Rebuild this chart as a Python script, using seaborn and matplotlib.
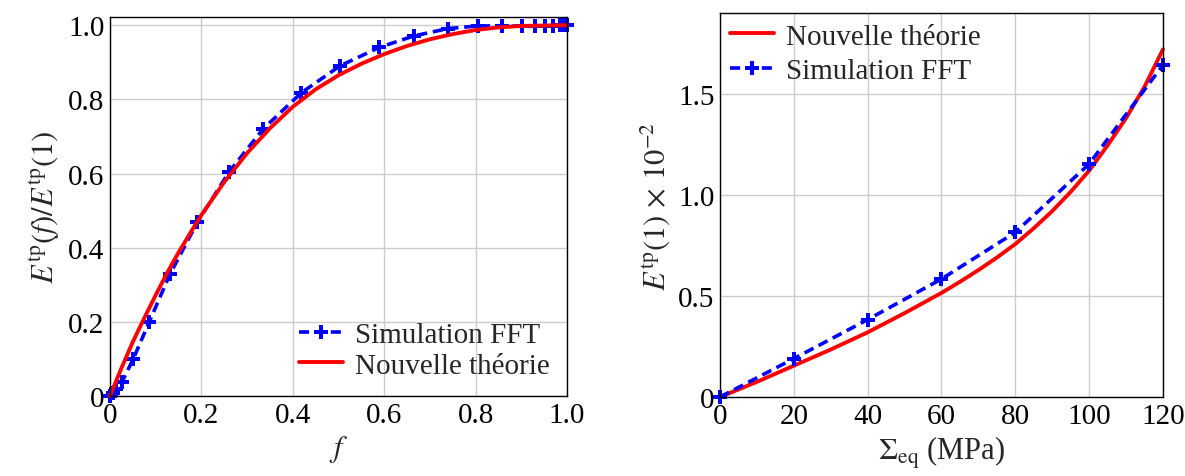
import matplotlib
matplotlib.use('Agg')
import matplotlib.pyplot as plt
import seaborn as sns
import pandas as pd

# ── Left panel: normalised E^tp(f)/E^tp(1) vs f ─────────────────────────────
f_fft = [0.0, 0.006, 0.013, 0.026, 0.051, 0.086, 0.131, 0.191, 0.261, 0.335,
         0.419, 0.503, 0.589, 0.665, 0.740, 0.805, 0.857, 0.901, 0.930, 0.952,
         0.970, 0.984, 0.993, 1.0]
e_fft = [0.0, 0.008, 0.018, 0.037, 0.10, 0.20, 0.328, 0.468, 0.605, 0.720,
         0.818, 0.890, 0.940, 0.971, 0.991, 0.998, 0.998, 0.997, 0.997, 0.998,
         0.999, 1.0, 1.0, 1.0]

f_th = [0.0, 0.025, 0.05, 0.075, 0.1, 0.125, 0.15, 0.175, 0.2, 0.25, 0.3,
        0.35, 0.4, 0.45, 0.5, 0.55, 0.6, 0.65, 0.7, 0.75, 0.8, 0.85, 0.9, 1.0]
e_th = [0.0, 0.075, 0.146, 0.21, 0.272, 0.332, 0.387, 0.438, 0.488, 0.577,
        0.655, 0.722, 0.78, 0.827, 0.865, 0.896, 0.922, 0.944, 0.962, 0.976,
        0.987, 0.994, 0.998, 1.0]

# ── Right panel: E^tp(1) vs Sigma_eq ────────────────────────────────────────
s_fft = [0, 20, 40, 60, 80, 100, 120]
etp_fft = [0.0, 0.19, 0.383, 0.584, 0.815, 1.153, 1.643]

s_th = [0, 10, 20, 30, 40, 50, 60, 65, 70, 75, 80, 85, 90, 95, 100, 105,
        110, 115, 120]
etp_th = [0.0, 0.075, 0.155, 0.235, 0.32, 0.415, 0.515, 0.57, 0.628, 0.69,
          0.757, 0.835, 0.92, 1.015, 1.12, 1.245, 1.38, 1.535, 1.72]

left_df_fft = pd.DataFrame({'x': f_fft, 'y': e_fft})
left_df_th = pd.DataFrame({'x': f_th, 'y': e_th})
right_df_fft = pd.DataFrame({'x': s_fft, 'y': etp_fft})
right_df_th = pd.DataFrame({'x': s_th, 'y': etp_th})

sns.set_style('whitegrid')
plt.rcParams['font.family'] = ['Liberation Serif', 'DejaVu Serif']
plt.rcParams['mathtext.fontset'] = 'stix'
plt.rcParams['font.size'] = 21

fig = plt.figure(figsize=(11.85, 4.77), dpi=100)
ax1 = fig.add_axes([0.0928, 0.1677, 0.3857, 0.7945])
ax2 = fig.add_axes([0.6076, 0.1656, 0.3738, 0.805])

fft_kw = dict(color='blue', linestyle=(0, (2.8, 1.6)), linewidth=2.6,
              marker='P', markersize=10.5, markeredgewidth=0)
th_kw = dict(color='red', linewidth=2.8)

sns.lineplot(data=left_df_fft, x='x', y='y', ax=ax1, label='Simulation FFT', **fft_kw)
sns.lineplot(data=left_df_th, x='x', y='y', ax=ax1, label='Nouvelle théorie', **th_kw)

sns.lineplot(data=right_df_th, x='x', y='y', ax=ax2, label='Nouvelle théorie', **th_kw)
sns.lineplot(data=right_df_fft, x='x', y='y', ax=ax2, label='Simulation FFT', **fft_kw)

ax1.set_xlim(0, 1.0)
ax1.set_ylim(0, 1.022)
ax1.set_xticks([0, 0.2, 0.4, 0.6, 0.8, 1.0])
ax1.set_xticklabels(['0', '0.2', '0.4', '0.6', '0.8', '1.0'])
ax1.set_yticks([0, 0.2, 0.4, 0.6, 0.8, 1.0])
ax1.set_yticklabels(['0', '0.2', '0.4', '0.6', '0.8', '1.0'])
ax1.set_xlabel('$f$', fontsize=22)
ax1.set_ylabel(r'$E^{\mathrm{tp}}(f)/E^{\mathrm{tp}}(1)$', fontsize=22)
ax1.legend(loc='lower right', frameon=False, fontsize=21, handlelength=1.5,
           borderaxespad=0.2, handletextpad=0.4, labelspacing=0.15)

ax2.set_xlim(0, 120)
ax2.set_ylim(0, 1.9)
ax2.set_xticks([0, 20, 40, 60, 80, 100, 120])
ax2.set_yticks([0, 0.5, 1.0, 1.5])
ax2.set_yticklabels(['0', '0.5', '1.0', '1.5'])
ax2.set_xlabel(r'$\Sigma_{\mathrm{eq}}$ (MPa)', fontsize=22)
ax2.set_ylabel(r'$E^{\mathrm{tp}}(1)\,\times\,10^{-2}$', fontsize=22)
ax2.legend(loc='upper left', frameon=False, fontsize=21, handlelength=1.5,
           borderpad=0.35, borderaxespad=0.0, handletextpad=0.4,
           labelspacing=0.28)

for ax in (ax1, ax2):
    ax.grid(True, color='#cccccc', linewidth=1.0)
    for sp in ax.spines.values():
        sp.set_color('black')
        sp.set_linewidth(1.0)
    ax.tick_params(direction='in', length=5, width=0.8, color='#999999',
                   labelsize=21, pad=4, labelcolor='black')
    for line in ax.get_lines():
        line.set_clip_on(False)

fig.savefig('out.png', dpi=100)
